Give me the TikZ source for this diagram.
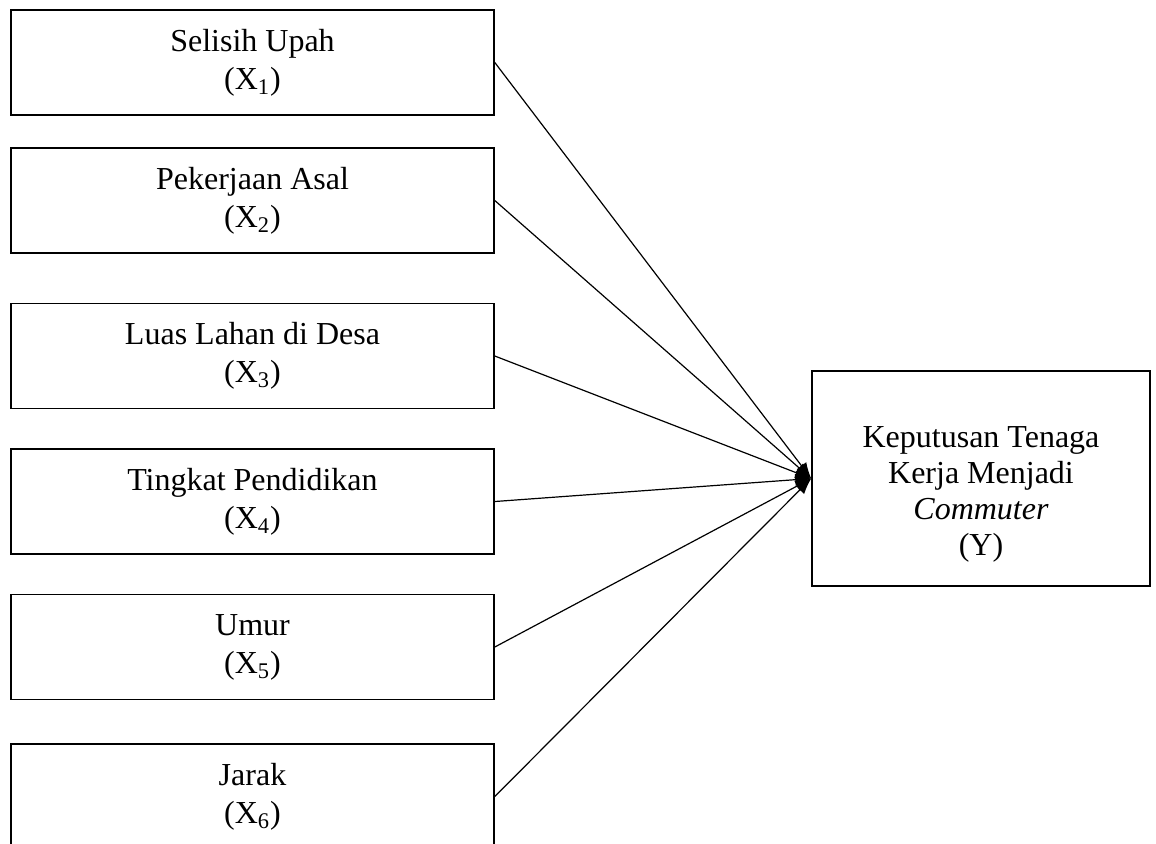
\documentclass[tikz,border=0pt]{standalone}
\usepackage{fontspec}
\setmainfont{Liberation Serif}
\usepackage{tikz}
\usetikzlibrary{arrows.meta, positioning}
\tikzstyle{varBox} = [draw, rectangle, line width=0.8pt,
   minimum width=241.5pt, minimum height=52.5pt, align=center]
\tikzstyle{depBox} = [draw, rectangle, line width=0.8pt,
   minimum width=169pt, minimum height=107.5pt]
\tikzstyle{pathArrow} = [line width=0.6pt, -{Latex[length=8pt,width=6pt]}]

\begin{document}
\begin{tikzpicture}[font=\fontsize{16}{19}\selectfont]
  \useasboundingbox (0pt,0pt) rectangle (578pt,-421.5pt);
  \node[varBox] (x1) at (126.25pt,-31.25pt) {Selisih Upah\\(X\textsubscript{1})};
  \node[varBox, below of=x1, node distance=69pt] (x2) {Pekerjaan Asal\\(X\textsubscript{2})};
  \node[varBox, below of=x2, node distance=77.75pt] (x3) {Luas Lahan di Desa\\(X\textsubscript{3})};
  \node[varBox, below of=x3, node distance=72.75pt] (x4) {Tingkat Pendidikan\\(X\textsubscript{4})};
  \node[varBox, below of=x4, node distance=72.75pt] (x5) {Umur\\(X\textsubscript{5})};
  \node[varBox, below of=x5, node distance=74.75pt] (x6) {Jarak\\(X\textsubscript{6})};
  \node[depBox] (y) at (490.5pt,-239.25pt) {};
  \node[align=center, font=\fontsize{16}{18}\selectfont] (ytext) at ([yshift=-8pt]y.center)
    {Keputusan Tenaga\\Kerja Menjadi\\\textit{Commuter}\\(Y)};

  % arrows into Y
  \draw[pathArrow] (x1.east) -- (y.west);
  \draw[pathArrow] (x2.east) -- (y.west);
  \draw[pathArrow] (x3.east) -- (y.west);
  \draw[pathArrow] (x4.east) -- (y.west);
  \draw[pathArrow] (x5.east) -- (y.west);
  \draw[pathArrow] (x6.east) -- (y.west);
\end{tikzpicture}
\end{document}
